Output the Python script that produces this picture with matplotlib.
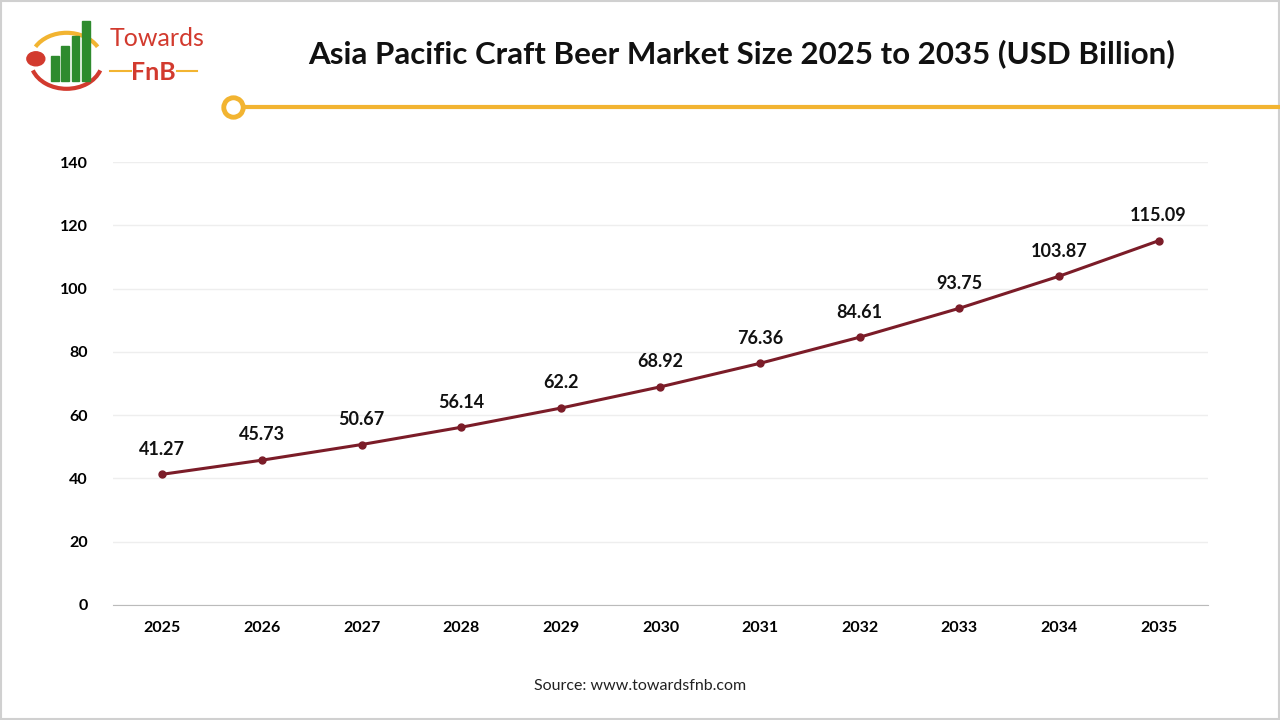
import matplotlib
matplotlib.use("Agg")
import matplotlib.pyplot as plt
from matplotlib.patches import Rectangle, Circle, Arc

years = ["2025","2026","2027","2028","2029","2030","2031","2032","2033","2034","2035"]
values = [41.27, 45.73, 50.67, 56.14, 62.2, 68.92, 76.36, 84.61, 93.75, 103.87, 115.09]
labels = ["41.27","45.73","50.67","56.14","62.2","68.92","76.36","84.61","93.75","103.87","115.09"]
yticks = [0, 20, 40, 60, 80, 100, 120, 140]

plt.rcParams['font.family'] = ['Lato', 'DejaVu Sans']
fig = plt.figure(figsize=(12.8, 7.2), dpi=100)
fig.patches.append(Rectangle((0.001, 0.001), 0.998, 0.998, transform=fig.transFigure,
                             fill=False, ec="#d0d0d0", lw=1.5))

ax = fig.add_axes([0.088, 0.160, 0.856, 0.615])
x = list(range(len(years)))
ax.plot(x, values, color="#7b1c28", lw=2.2, marker="o", ms=5, zorder=3)
for xi, v, l in zip(x, values, labels):
    ax.annotate(l, (xi, v), xytext=(0, 12), textcoords="offset points",
                ha="center", va="bottom", fontsize=13, fontweight="bold", color="#111")
ax.set_xlim(-0.5, len(years) - 0.5)
ax.set_ylim(0, 140)
ax.set_yticks(yticks)
ax.set_xticks(x)
ax.set_xticklabels(years)
ax.tick_params(axis="both", length=0, labelsize=11.5, pad=12)
for t in ax.get_xticklabels() + ax.get_yticklabels():
    t.set_fontweight("bold")
ax.tick_params(axis="y", pad=18)
ax.grid(axis="y", color="#eeeeee", lw=1)
ax.set_axisbelow(True)
for s in ["top", "right", "left"]:
    ax.spines[s].set_visible(False)
ax.spines["bottom"].set_color("#bbbbbb")

fig.text(0.579, 0.926, "Asia Pacific Craft Beer Market Size 2025 to 2035 (USD Billion)",
         ha="center", va="center", fontsize=22.5, fontweight="bold", color="#111")
fig.text(0.5, 0.047, "Source: www.towardsfnb.com", ha="center", va="center", fontsize=11.5, color="#222")

# decorative line
fig.add_artist(plt.Line2D([0.19, 1.0], [0.851, 0.851], color="#f2b431", lw=3, transform=fig.transFigure))
fig.add_artist(plt.Line2D([0.182], [0.851], marker="o", ms=14, mfc="white", mec="#f2b431", mew=3.5,
                          transform=fig.transFigure))

# logo
lax = fig.add_axes([0.02, 0.86, 0.15, 0.125])
lax.set_xlim(0, 150); lax.set_ylim(0, 90); lax.axis("off")
lax.add_patch(Arc((32, 40), 56, 56, theta1=30, theta2=150, color="#f2b431", lw=3))
lax.add_patch(Arc((32, 40), 56, 56, theta1=200, theta2=340, color="#d23a2e", lw=3))
for i, h in enumerate([25, 35, 45, 60]):
    lax.add_patch(Rectangle((20 + i * 8, 20), 6, h, color="#2e8b2e"))
lax.add_patch(Circle((8, 42), 7, color="#d23a2e"))
lax.text(66, 62, "Towards", fontsize=18, color="#d23a2e", va="center", ha="left")
lax.text(100, 28, "FnB", fontsize=18, color="#d23a2e", va="center", ha="center", fontweight="bold")
lax.plot([66, 82], [30, 30], color="#f2b431", lw=1.5)
lax.plot([118, 134], [30, 30], color="#f2b431", lw=1.5)

fig.savefig("out.png", dpi=100)
